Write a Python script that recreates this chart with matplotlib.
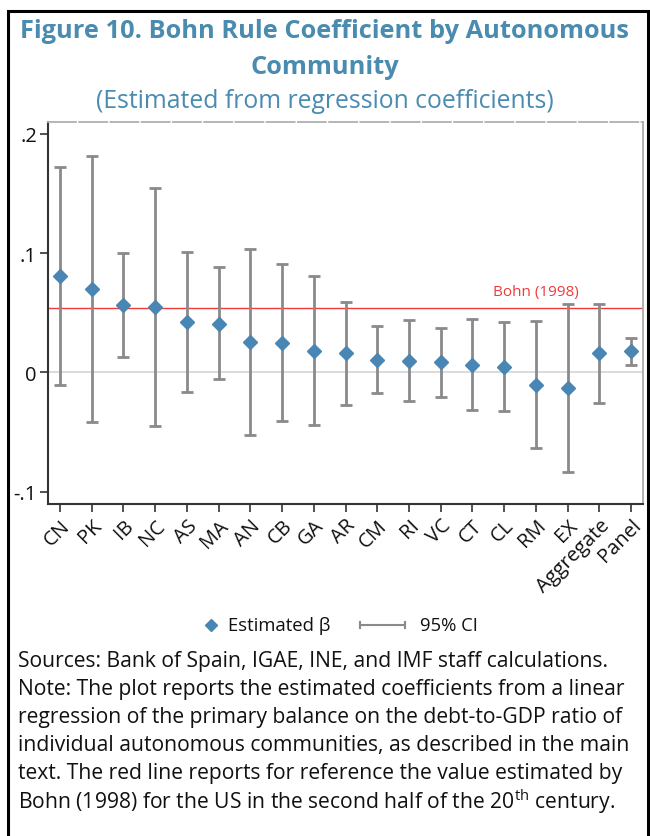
import matplotlib
matplotlib.use("Agg")
import matplotlib.pyplot as plt
from matplotlib.lines import Line2D
from matplotlib.patches import Rectangle
import numpy as np

plt.rcParams['font.family'] = ['Open Sans', 'DejaVu Sans']
plt.rcParams['mathtext.fontset'] = 'custom'
plt.rcParams['mathtext.rm'] = 'Open Sans'

regions = ['CN', 'PK', 'IB', 'NC', 'AS', 'MA', 'AN', 'CB', 'GA', 'AR',
           'CM', 'RI', 'VC', 'CT', 'CL', 'RM', 'EX', 'Aggregate', 'Panel']
beta = [0.081, 0.0696, 0.0564, 0.055, 0.0419, 0.0408, 0.0251, 0.0248, 0.0179, 0.0159,
        0.0106, 0.0097, 0.0084, 0.0064, 0.0042, -0.0106, -0.0134, 0.0159, 0.0176]
ci_low = [-0.0104, -0.042, 0.0126, -0.045, -0.0168, -0.0059, -0.0526, -0.041, -0.0439, -0.0274,
          -0.0176, -0.0238, -0.021, -0.0319, -0.0324, -0.0632, -0.0838, -0.0255, 0.0061]
ci_high = [0.172, 0.181, 0.1003, 0.1548, 0.1006, 0.0883, 0.1031, 0.0908, 0.0805, 0.0592,
           0.0388, 0.0436, 0.0374, 0.0444, 0.0419, 0.0428, 0.0572, 0.0572, 0.0288]
bohn_1998 = 0.054

blue = '#4a86b4'
grey = '#8a8a8a'
red = '#f03a3a'
title_col = '#4a8bb0'

W, H = 650, 837


def fx(px):
    return px / W


def fy(py):
    return 1 - py / H


fig = plt.figure(figsize=(6.5, 8.37), dpi=100)
fig.patches.append(Rectangle((fx(8), -0.01), fx(640), fy(12) + 0.01,
                             transform=fig.transFigure, fill=False,
                             edgecolor='black', lw=2.2))

fig.text(0.5, fy(32), 'Figure 10. Bohn Rule Coefficient by Autonomous',
         ha='center', va='center', fontsize=18.3, fontweight='bold', color=title_col)
fig.text(0.5, fy(68), 'Community', ha='center', va='center',
         fontsize=18.3, fontweight='bold', color=title_col)
fig.text(0.5, fy(102), '(Estimated from regression coefficients)',
         ha='center', va='center', fontsize=17.8, color=title_col)

ax = fig.add_axes([fx(48), fy(505), fx(595), 382 / H])
x = np.arange(len(regions))
beta = np.array(beta)
lo = beta - np.array(ci_low)
hi = np.array(ci_high) - beta

ax.axhline(0, color='#d8d8d8', lw=1.3, zorder=0)
ax.axhline(bohn_1998, color=red, lw=1, zorder=1)
ax.text(16.35, bohn_1998 + 0.0075, 'Bohn (1998)', color=red,
        ha='right', va='bottom', fontsize=11)
ax.errorbar(x, beta, yerr=[lo, hi], fmt='none', ecolor=grey, elinewidth=2,
            capsize=4, capthick=2, zorder=2)
ax.plot(x, beta, 'D', color=blue, markersize=7, zorder=3)

ax.set_xlim(-0.38, 18.38)
ax.set_ylim(-0.1104, 0.2099)
ax.set_yticks([-0.1, 0, 0.1, 0.2])
ax.set_yticklabels(['-.1', '0', '.1', '.2'])
ax.set_xticks(x)
ax.set_xticklabels(regions, rotation=45, ha='right', rotation_mode='anchor')
ax.tick_params(axis='both', labelsize=14.5, length=6, width=1.2, color='#333333',
               labelcolor='#111111')
ax.tick_params(axis='x', pad=2)
ax.tick_params(axis='y', pad=2)
for side in ['left', 'bottom']:
    ax.spines[side].set_color('#333333')
    ax.spines[side].set_linewidth(1.5)
ax.spines['right'].set_color('#aaaaaa')
ax.spines['right'].set_linewidth(1.3)
ax.spines['top'].set_color('#b0b0b0')
ax.spines['top'].set_linewidth(1.3)
ax.spines['top'].set_linestyle((0, (15.5, 1.8)))

# legend drawn by hand: diamond key, then a capped line for the interval
fig.add_artist(Line2D([fx(211)], [fy(626)], marker='D', color=blue,
                      markersize=6.5, transform=fig.transFigure))
fig.text(fx(228), fy(626), 'Estimated β', ha='left', va='center',
         fontsize=13.3, color='#111111')
fig.add_artist(Line2D([fx(360), fx(405)], [fy(626), fy(626)], color=grey,
                      lw=1.5, transform=fig.transFigure))
for cx in (360, 405):
    fig.add_artist(Line2D([fx(cx), fx(cx)], [fy(623), fy(629)], color=grey,
                          lw=1.5, transform=fig.transFigure))
fig.text(fx(420), fy(626), '95% CI', ha='left', va='center',
         fontsize=13.3, color='#111111')

notes = [
    'Sources: Bank of Spain, IGAE, INE, and IMF staff calculations.',
    'Note: The plot reports the estimated coefficients from a linear',
    'regression of the primary balance on the debt-to-GDP ratio of',
    'individual autonomous communities, as described in the main',
    'text. The red line reports for reference the value estimated by',
    'Bohn (1998) for the US in the second half of the 20$^{\\rm th}$ century.',
]
for i, line in enumerate(notes):
    fig.text(fx(18), fy(662 + 28 * i), line, ha='left', va='center',
             fontsize=15.2, color='#111111')

fig.savefig('out.png', dpi=100)
